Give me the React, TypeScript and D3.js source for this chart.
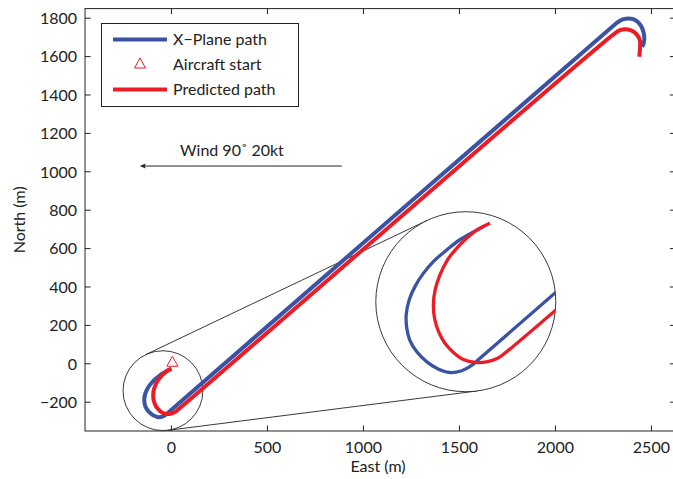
import React, { useEffect, useRef } from 'react';
import * as d3 from 'd3';

// X-Plane path (m)
const xplaneEast = [-9, -50, -72, -95, -112, -126, -136, -141, -140, -135, -123, -106, -87, -67, -47, -30, -16,
  2305, 2330, 2355, 2380, 2405, 2428, 2446, 2458, 2463, 2461, 2452];
const xplaneNorth = [-30, -53, -70, -90, -110, -132, -155, -180, -203, -223, -243, -260, -272, -278, -275, -266, -254,
  1763, 1783, 1795, 1799, 1795, 1782, 1760, 1730, 1700, 1675, 1651];

// Predicted path (m)
const predEast = [1, -19, -39, -56, -71, -84, -92, -95, -93, -86, -75, -61, -44, -24, -5, 14, 29,
  2313, 2337, 2364, 2391, 2414, 2432, 2441, 2441, 2437];
const predNorth = [-25, -35, -51, -68, -87, -113, -138, -164, -186, -209, -229, -244, -256, -261, -260, -254, -243,
  1724, 1738, 1743, 1738, 1725, 1704, 1679, 1652, 1599];

const startEast = 5;
const startNorth = 8;

const xTicks = [0, 500, 1000, 1500, 2000, 2500];
const yTicks = [-200, 0, 200, 400, 600, 800, 1000, 1200, 1400, 1600, 1800];
const legendLabels = ['X\u2212Plane path', 'Aircraft start', 'Predicted path'];

const windLabel = 'Wind 90\u02DA 20kt';
const windEast = [887, -165];
const windNorth = 1030;

// small circle around the start (data units) and zoom centre
const zoomCircle = [-44, -140, 208];
const zoomCentre = [-40, -158];

const BLUE = '#3a53a4';
const RED = '#ed1c24';
const FONT = 'Lato, "DejaVu Sans", sans-serif';

const App = () => {
  const svgRef = useRef(null);

  useEffect(() => {
    const width = 673;
    const height = 479;
    const svg = d3.select(svgRef.current);
    svg.selectAll('*').remove();

    const x = d3.scaleLinear().domain([-450, 2625]).range([85, 85 + 3075 * 0.192]);
    const y = d3.scaleLinear().domain([-350, 1850]).range([431, 431 - 2200 * 0.192]);
    const [x0, x1] = x.range();
    const [y0, y1] = y.range();

    const xplane = xplaneEast.map((e, i) => [e, xplaneNorth[i]]);
    const pred = predEast.map((e, i) => [e, predNorth[i]]);

    // frame
    svg.append('rect')
      .attr('x', x0).attr('y', y1)
      .attr('width', x1 - x0).attr('height', y0 - y1)
      .attr('fill', 'none').attr('stroke', '#222').attr('stroke-width', 1);

    const tl = 5.5;
    xTicks.forEach(t => {
      svg.append('line').attr('x1', x(t)).attr('x2', x(t)).attr('y1', y0).attr('y2', y0 - tl).attr('stroke', '#222');
      svg.append('line').attr('x1', x(t)).attr('x2', x(t)).attr('y1', y1).attr('y2', y1 + tl).attr('stroke', '#222');
      svg.append('text').attr('x', x(t)).attr('y', 453)
        .attr('text-anchor', 'middle').attr('font-family', FONT).attr('font-size', 16).attr('fill', '#222')
        .text(d3.format('d')(t));
    });
    yTicks.forEach(t => {
      svg.append('line').attr('x1', x0).attr('x2', x0 + tl).attr('y1', y(t)).attr('y2', y(t)).attr('stroke', '#222');
      svg.append('line').attr('x1', x1).attr('x2', x1 - tl).attr('y1', y(t)).attr('y2', y(t)).attr('stroke', '#222');
      svg.append('text').attr('x', 77).attr('y', y(t)).attr('dy', '0.36em')
        .attr('text-anchor', 'end').attr('font-family', FONT).attr('font-size', 16).attr('fill', '#222')
        .text(d3.format('d')(t));
    });

    svg.append('text').attr('x', 378).attr('y', 472)
      .attr('text-anchor', 'middle').attr('font-family', FONT).attr('font-size', 16).attr('fill', '#222')
      .text('East (m)');
    svg.append('text').attr('transform', `translate(25,${(y0 + y1) / 2}) rotate(-90)`)
      .attr('text-anchor', 'middle').attr('font-family', FONT).attr('font-size', 16).attr('fill', '#222')
      .text('North (m)');

    // wind annotation
    svg.append('text').attr('x', x(45)).attr('y', y(windNorth + 50))
      .attr('font-family', FONT).attr('font-size', 16).attr('fill', '#222')
      .text(windLabel);
    svg.append('line')
      .attr('x1', x(windEast[0])).attr('x2', x(windEast[1]) + 4)
      .attr('y1', y(windNorth)).attr('y2', y(windNorth))
      .attr('stroke', '#222').attr('stroke-width', 1);
    const ax = x(windEast[1]);
    const ay = y(windNorth);
    svg.append('path')
      .attr('d', `M${ax},${ay} L${ax + 6},${ay - 2.5} L${ax + 5},${ay} L${ax + 6},${ay + 2.5} Z`)
      .attr('fill', '#222');

    // circles and connecting tangents
    const c1 = [x(zoomCircle[0]), y(zoomCircle[1])];
    const r1 = x(zoomCircle[2]) - x(0);
    const c2 = [465.8, 301.7];
    const r2 = 90;
    const dx = c2[0] - c1[0];
    const dy = c2[1] - c1[1];
    const d = Math.hypot(dx, dy);
    const base = Math.atan2(dy, dx);
    const off = Math.acos((r1 - r2) / d);
    [base + off, base - off].forEach(a => {
      const n = [Math.cos(a), Math.sin(a)];
      svg.append('line')
        .attr('x1', c1[0] + r1 * n[0]).attr('y1', c1[1] + r1 * n[1])
        .attr('x2', c2[0] + r2 * n[0]).attr('y2', c2[1] + r2 * n[1])
        .attr('stroke', '#222').attr('stroke-width', 0.9);
    });
    svg.append('circle').attr('cx', c1[0]).attr('cy', c1[1]).attr('r', r1)
      .attr('fill', 'none').attr('stroke', '#222').attr('stroke-width', 0.9);
    svg.append('circle').attr('cx', c2[0]).attr('cy', c2[1]).attr('r', r2)
      .attr('fill', 'white').attr('stroke', '#222').attr('stroke-width', 0.9);

    // main paths
    const line = d3.line().x(p => x(p[0])).y(p => y(p[1])).curve(d3.curveCatmullRom.alpha(0.5));
    svg.append('path').attr('d', line(xplane)).attr('fill', 'none').attr('stroke', BLUE).attr('stroke-width', 4);
    svg.append('path').attr('d', line(pred)).attr('fill', 'none').attr('stroke', RED).attr('stroke-width', 4);

    const tri = (cx, cy, s) => `M${cx},${cy - s * 0.6} L${cx + s * 0.55},${cy + s * 0.4} L${cx - s * 0.55},${cy + s * 0.4} Z`;
    svg.append('path').attr('d', tri(x(startEast), y(startNorth), 10))
      .attr('fill', 'none').attr('stroke', RED).attr('stroke-width', 1);

    // zoomed inset
    const k = 0.59;
    const xz = d3.scaleLinear().domain([zoomCentre[0] - r2 / k, zoomCentre[0] + r2 / k]).range([c2[0] - r2, c2[0] + r2]);
    const yz = d3.scaleLinear().domain([zoomCentre[1] - r2 / k, zoomCentre[1] + r2 / k]).range([c2[1] + r2, c2[1] - r2]);
    svg.append('clipPath').attr('id', 'zoomclip')
      .append('circle').attr('cx', c2[0]).attr('cy', c2[1]).attr('r', r2);
    const zg = svg.append('g').attr('clip-path', 'url(#zoomclip)');
    const zline = d3.line().x(p => xz(p[0])).y(p => yz(p[1])).curve(d3.curveCatmullRom.alpha(0.5));
    zg.append('path').attr('d', zline(xplane)).attr('fill', 'none').attr('stroke', BLUE).attr('stroke-width', 3.3);
    zg.append('path').attr('d', zline(pred)).attr('fill', 'none').attr('stroke', RED).attr('stroke-width', 3.3);

    // legend
    const lg = svg.append('g');
    lg.append('rect').attr('x', 101.5).attr('y', 23.5).attr('width', 197).attr('height', 83)
      .attr('fill', 'white').attr('stroke', '#222').attr('stroke-width', 1);
    const rows = [39.5, 64, 89.5];
    lg.append('line').attr('x1', 113).attr('x2', 167).attr('y1', rows[0]).attr('y2', rows[0])
      .attr('stroke', BLUE).attr('stroke-width', 4);
    lg.append('path').attr('d', tri(140, rows[1], 10)).attr('fill', 'none').attr('stroke', RED).attr('stroke-width', 1);
    lg.append('line').attr('x1', 113).attr('x2', 167).attr('y1', rows[2]).attr('y2', rows[2])
      .attr('stroke', RED).attr('stroke-width', 4);
    legendLabels.forEach((lab, i) => {
      lg.append('text').attr('x', 173).attr('y', rows[i]).attr('dy', '0.36em')
        .attr('font-family', FONT).attr('font-size', 16).attr('fill', '#222')
        .text(lab);
    });

    svg.attr('width', width).attr('height', height);
  }, []);

  return (
    <svg ref={svgRef} width={673} height={479}
      style={{ position: 'absolute', left: 0, top: 0, background: 'white' }} />
  );
};

export default App;
